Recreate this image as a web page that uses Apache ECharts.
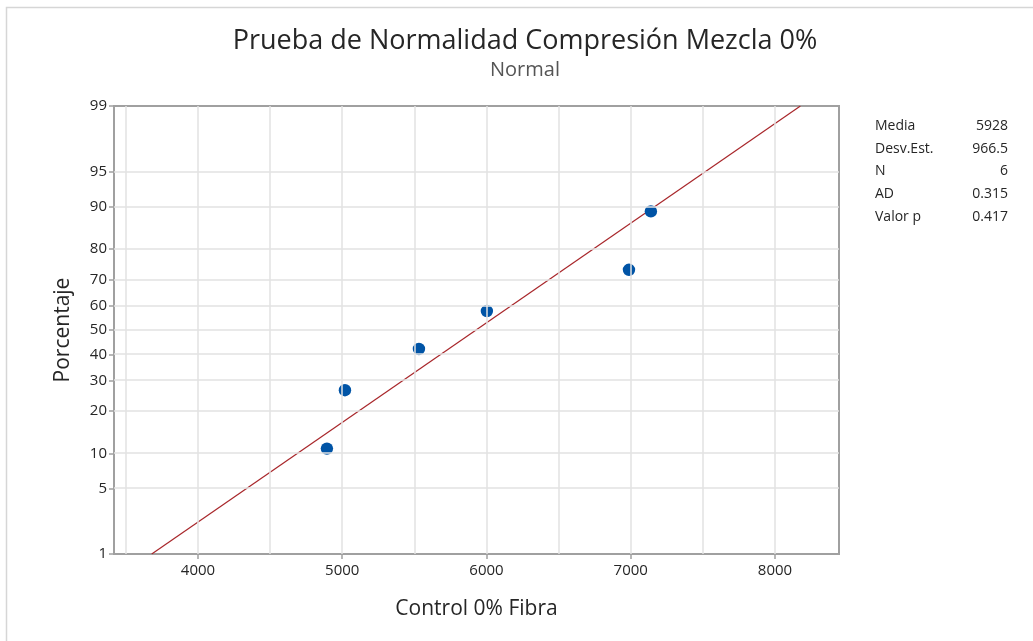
<!DOCTYPE html>
<html><head><meta charset="utf-8">
<script src="https://cdn.jsdelivr.net/npm/echarts@6/dist/echarts.min.js"></script>
<style>html,body{margin:0;padding:0;background:#fff}#c{width:1033px;height:641px}</style>
</head><body><div id="c"></div>
<script>
const titleText = 'Prueba de Normalidad Compresión Mezcla 0%';
const subtitleText = 'Normal';
const xName = 'Control 0% Fibra';
const yName = 'Porcentaje';
const xValues = [4894, 5019, 5532, 6003, 6988, 7140];
const pctValues = [10.9, 26.6, 42.2, 57.8, 73.4, 89.1];
const pctTicks = [1, 5, 10, 20, 30, 40, 50, 60, 70, 80, 90, 95, 99];
const xTicks = [4000, 5000, 6000, 7000, 8000];
const xGrid = [3500, 4000, 4500, 5000, 5500, 6000, 6500, 7000, 7500, 8000];
const xRange = [3418, 8444];
const statLabels = ['Media', 'Desv.Est.', 'N', 'AD', 'Valor p'];
const statValues = ['5928', '966.5', '6', '0.315', '0.417'];
const fitMean = 5928;
const fitSd = 966.5;

function invNorm(p) {
  const a = [-3.969683028665376e+01, 2.209460984245205e+02, -2.759285104469687e+02, 1.383577518672690e+02, -3.066479806614716e+01, 2.506628277459239e+00];
  const b = [-5.447609879822406e+01, 1.615858368580409e+02, -1.556989798598866e+02, 6.680131188771972e+01, -1.328068155288572e+01];
  const c = [-7.784894002430293e-03, -3.223964580411365e-01, -2.400758277161838e+00, -2.549732539343734e+00, 4.374664141464968e+00, 2.938163982698783e+00];
  const d = [7.784695709041462e-03, 3.224671290700398e-01, 2.445134137142996e+00, 3.754408661907416e+00];
  const pl = 0.02425, ph = 1 - pl;
  let q, r;
  if (p < pl) {
    q = Math.sqrt(-2 * Math.log(p));
    return (((((c[0]*q+c[1])*q+c[2])*q+c[3])*q+c[4])*q+c[5]) / ((((d[0]*q+d[1])*q+d[2])*q+d[3])*q+1);
  } else if (p <= ph) {
    q = p - 0.5; r = q*q;
    return (((((a[0]*r+a[1])*r+a[2])*r+a[3])*r+a[4])*r+a[5])*q / (((((b[0]*r+b[1])*r+b[2])*r+b[3])*r+b[4])*r+1);
  } else {
    q = Math.sqrt(-2 * Math.log(1 - p));
    return -(((((c[0]*q+c[1])*q+c[2])*q+c[3])*q+c[4])*q+c[5]) / ((((d[0]*q+d[1])*q+d[2])*q+d[3])*q+1);
  }
}
const z = p => invNorm(p / 100);
const zTicks = pctTicks.map(z);
const zMin = z(pctTicks[0]), zMax = z(pctTicks[pctTicks.length - 1]);

const pts = xValues.map((x, i) => [x, z(pctValues[i])]);
const fitLine = [[fitMean + zMin * fitSd, zMin], [fitMean + zMax * fitSd, zMax]];

const FONT = 'Open Sans';
const gridColor = '#e2e2e2';
const axisColor = '#a0a0a0';
const textColor = '#262626';
const dotColor = '#0054a6';

const gridMarks = xGrid.map(v => ({ xAxis: v })).concat(zTicks.slice(1, -1).map(v => ({ yAxis: v })));

const statGraphics = [];
statLabels.forEach((l, i) => {
  statGraphics.push({ type: 'text', left: 875, top: 119 + i * 22.7,
    style: { text: l, font: '14px "Open Sans"', fill: textColor } });
  statGraphics.push({ type: 'text', right: 1033 - 1008, top: 119 + i * 22.7,
    style: { text: statValues[i], font: '14px "Open Sans"', fill: textColor, textAlign: 'right' } });
});

const chart = echarts.init(document.getElementById('c'), null, { renderer: 'canvas' });
chart.setOption({
  animation: false,
  backgroundColor: '#fff',
  title: {
    text: titleText, subtext: subtitleText, left: 520, textAlign: 'center', top: 23, itemGap: 5,
    textStyle: { fontFamily: FONT, fontSize: 27, fontWeight: 500, color: '#262626' },
    subtextStyle: { fontFamily: FONT, fontSize: 20, color: '#555' }
  },
  grid: { left: 114, top: 106, right: 1033 - 839, bottom: 641 - 554, show: true, borderColor: axisColor, borderWidth: 2, containLabel: false },
  xAxis: {
    type: 'value', min: xRange[0], max: xRange[1],
    name: xName, nameLocation: 'middle', nameGap: 45,
    nameTextStyle: { fontFamily: FONT, fontSize: 21, color: textColor },
    axisLine: { show: true, onZero: false, lineStyle: { color: axisColor, width: 2 } },
    axisTick: { show: true, length: 5, lineStyle: { color: axisColor, width: 1.5 }, customValues: xTicks },
    axisLabel: { customValues: xTicks, fontFamily: FONT, fontSize: 15, color: textColor, margin: 9, formatter: v => String(v) },
    splitLine: { show: false }
  },
  yAxis: {
    type: 'value', min: zMin, max: zMax,
    name: yName, nameLocation: 'middle', nameGap: 40, nameRotate: 90,
    nameTextStyle: { fontFamily: FONT, fontSize: 21, color: textColor },
    axisLine: { show: true, onZero: false, lineStyle: { color: axisColor, width: 2 } },
    axisTick: { show: true, length: 5, lineStyle: { color: axisColor, width: 1.5 }, customValues: zTicks },
    axisLabel: {
      customValues: zTicks, fontFamily: FONT, fontSize: 15, color: textColor, margin: 7,
      formatter: v => { let best = 0, bd = 1e9; zTicks.forEach((t, i) => { const d = Math.abs(t - v); if (d < bd) { bd = d; best = i; } }); return String(pctTicks[best]); }
    },
    splitLine: { show: false }
  },
  graphic: [
    { type: 'rect', left: 4, top: 5, shape: { width: 1060, height: 660 }, style: { fill: 'none', stroke: '#d6d6d6', lineWidth: 1.5 }, silent: true, z: -10 }
  ].concat(statGraphics),
  series: [
    {
      type: 'line', data: [], z: 1, silent: true,
      markLine: { silent: true, symbol: ['none', 'none'], label: { show: false },
        lineStyle: { color: gridColor, width: 1.5, type: 'solid' }, emphasis: { disabled: true }, data: gridMarks }
    },
    {
      type: 'line', data: fitLine, z: 2, symbol: 'none', silent: true,
      lineStyle: { color: '#a8262a', width: 1.2 }
    },
    {
      type: 'custom', data: pts, z: 3, silent: true,
      encode: { x: 0, y: 1 },
      renderItem: (params, api) => {
        const p = api.coord([api.value(0), api.value(1)]);
        return { type: 'circle', shape: { cx: p[0], cy: p[1], r: 6.2 }, style: { fill: dotColor } };
      }
    }
  ]
});
</script></body></html>
